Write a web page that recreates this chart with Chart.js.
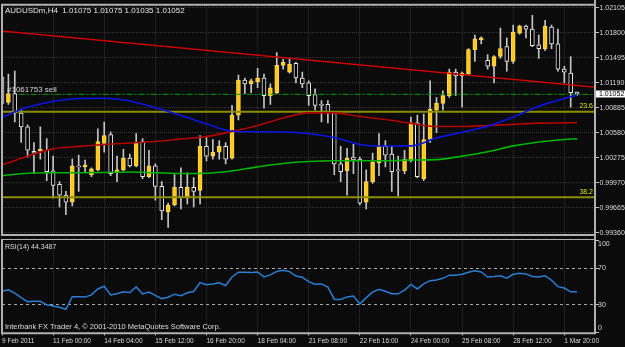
<!DOCTYPE html>
<html>
<head>
<meta charset="utf-8">
<script src="https://cdn.jsdelivr.net/npm/chart.js@4.4.1/dist/chart.umd.min.js"></script>
<style>
  html, body { margin: 0; padding: 0; background: #0b0b0b; }
  #wrap { position: relative; width: 625px; height: 347px; background: #0b0b0b; overflow: hidden; }
  #priceChart { position: absolute; left: 0; top: 0; }
  #rsiChart { position: absolute; left: 0; top: 239px; }
</style>
</head>
<body>
<div id="wrap">
  <canvas id="priceChart" width="625" height="239"></canvas>
  <canvas id="rsiChart" width="625" height="108"></canvas>
</div>
<script>
// AUDUSDm H4, 91 bars from 9 Feb 2011 16:00
const symbol = 'AUDUSDm,H4';

const opens = [
  1.01259, 1.00949, 1.01057, 1.00818, 1.00652, 1.00354, 1.00354, 1.00366, 1.00115, 0.99949,
  0.99818, 0.99734, 1.00175, 1.00163, 1.00068, 1.00127, 1.00449, 1.00556, 1.00104, 1.00127,
  1.00270, 1.00175, 1.00473, 1.00044, 1.00175, 0.99925, 0.99615, 0.99698, 0.99913, 0.99794,
  0.99913, 0.99877, 1.00413, 1.00294, 1.00342, 1.00413, 1.00270, 1.00795, 1.01223, 1.01176,
  1.01200, 1.01247, 1.01033, 1.01069, 1.01402, 1.01319, 1.01426, 1.01247, 1.01188, 1.01045,
  1.00926, 1.00926, 1.00818, 1.00199, 1.00115, 1.00282, 1.00258, 0.99734, 0.99984, 1.00211,
  1.00413, 1.00318, 1.00127, 1.00115, 1.00235, 1.00699, 1.00020, 1.00497, 1.00854, 1.00938,
  1.01033, 1.01319, 1.01271, 1.01295, 1.01593, 1.01712, 1.01462, 1.01390, 1.01509, 1.01629,
  1.01450, 1.01795, 1.01879, 1.01843, 1.01652, 1.01605, 1.01867, 1.01664, 1.01355, 1.01307,
  1.01075
];
const highs = [
  1.01307, 1.01295, 1.01331, 1.00854, 1.00675, 1.00461, 1.00652, 1.00509, 1.00294, 0.99984,
  0.99865, 1.00258, 1.00306, 1.00247, 1.00151, 1.00628, 1.00711, 1.00592, 1.00294, 1.00378,
  1.00318, 1.00568, 1.00509, 1.00366, 1.00199, 0.99984, 0.99722, 1.00068, 1.00151, 1.00092,
  1.00032, 1.00544, 1.00532, 1.00497, 1.00485, 1.00461, 1.00914, 1.01283, 1.01247, 1.01235,
  1.01366, 1.01295, 1.01176, 1.01557, 1.01474, 1.01486, 1.01438, 1.01319, 1.01212, 1.01116,
  1.00973, 1.00973, 1.00842, 1.00413, 1.00389, 1.00437, 1.00282, 1.00127, 1.00330, 1.00568,
  1.00485, 1.00413, 1.00294, 1.00366, 1.00771, 1.00795, 1.00807, 1.01212, 1.01009, 1.01092,
  1.01355, 1.01355, 1.01319, 1.01605, 1.01771, 1.01748, 1.01533, 1.01521, 1.01855, 1.01736,
  1.01891, 1.01891, 1.01891, 1.02010, 1.01771, 1.01950, 1.01891, 1.01843, 1.01390, 1.01509,
  1.01075
];
const lows = [
  1.00854, 1.00926, 1.00711, 1.00461, 1.00282, 1.00080, 1.00258, 0.99996, 0.99782, 0.99675,
  0.99579, 0.99687, 0.99865, 1.00092, 1.00044, 1.00115, 1.00342, 1.00056, 0.99984, 1.00115,
  1.00163, 1.00163, 1.00020, 1.00032, 0.99758, 0.99520, 0.99424, 0.99687, 0.99651, 0.99710,
  0.99675, 0.99710, 1.00235, 1.00258, 1.00258, 1.00199, 1.00258, 1.00735, 1.01057, 1.01069,
  1.01128, 1.00878, 1.00926, 1.01057, 1.01355, 1.01307, 1.01188, 1.01128, 1.00914, 1.00854,
  1.00711, 1.00699, 1.00068, 0.99984, 0.99818, 1.00080, 0.99698, 0.99651, 0.99961, 1.00056,
  1.00163, 0.99865, 0.99806, 1.00080, 1.00223, 1.00032, 0.99996, 1.00461, 1.00580, 1.00854,
  1.01009, 1.01033, 1.00890, 1.01283, 1.01450, 1.01664, 1.01355, 1.01188, 1.01486, 1.01331,
  1.01426, 1.01783, 1.01736, 1.01629, 1.01486, 1.01581, 1.01605, 1.01331, 1.01188, 1.00890,
  1.01035
];
const closes = [
  1.00938, 1.01057, 1.00818, 1.00652, 1.00366, 1.00330, 1.00378, 1.00104, 0.99937, 0.99818,
  0.99734, 1.00175, 1.00163, 1.00187, 1.00139, 1.00473, 1.00544, 1.00080, 1.00127, 1.00270,
  1.00175, 1.00461, 1.00044, 1.00175, 0.99925, 0.99627, 0.99698, 0.99913, 0.99794, 0.99913,
  0.99865, 1.00413, 1.00294, 1.00342, 1.00413, 1.00258, 1.00795, 1.01223, 1.01176, 1.01212,
  1.01247, 1.01033, 1.01128, 1.01402, 1.01438, 1.01414, 1.01247, 1.01176, 1.01033, 1.00914,
  1.00914, 1.00818, 1.00199, 1.00104, 1.00270, 1.00247, 0.99722, 0.99984, 1.00223, 1.00413,
  1.00306, 1.00104, 1.00115, 1.00258, 1.00699, 1.00044, 1.00497, 1.00866, 1.00938, 1.01033,
  1.01319, 1.01271, 1.01307, 1.01593, 1.01724, 1.01736, 1.01390, 1.01509, 1.01605, 1.01450,
  1.01807, 1.01879, 1.01843, 1.01640, 1.01605, 1.01879, 1.01664, 1.01355, 1.01319, 1.01069,
  1.01052
];

// moving averages, read every 4th bar
const maBars = [0, 4, 8, 12, 16, 20, 24, 28, 32, 36, 40, 44, 48, 52, 56, 60, 64, 68, 72, 76, 80, 84, 88, 90];
const maBlue = [1.00771, 1.00890, 1.00961, 1.00997, 1.01000, 1.00967, 1.00884, 1.00789, 1.00687, 1.00598,
  1.00592, 1.00589, 1.00568, 1.00521, 1.00437, 1.00417, 1.00419, 1.00515, 1.00586, 1.00658,
  1.00771, 1.00902, 1.00997, 1.01039];
const maRed = [1.00187, 1.00294, 1.00383, 1.00413, 1.00437, 1.00455, 1.00473, 1.00503, 1.00532, 1.00596,
  1.00669, 1.00759, 1.00822, 1.00822, 1.00777, 1.00741, 1.00694, 1.00655, 1.00655, 1.00668,
  1.00681, 1.00697, 1.00700, 1.00703];
const maGreen = [1.00056, 1.00086, 1.00092, 1.00092, 1.00095, 1.00100, 1.00092, 1.00083, 1.00086, 1.00115,
  1.00163, 1.00205, 1.00229, 1.00238, 1.00238, 1.00238, 1.00247, 1.00252, 1.00294, 1.00348,
  1.00419, 1.00467, 1.00497, 1.00505];

// trendline anchors (bar, price), fibo levels, open order
const trendBars = [0, 93];
const trendPrices = [1.01819, 1.01134];
const fibLevels = [1.00834, 0.99794];
const fibLabels = ['23.6', '38.2'];
const orderPrice = 1.01048;
const orderStartBar = 2.6;
const orderLabel = '#1061753 sell';

const rsi = [
  45.1, 46.5, 43, 38, 33.6, 34, 34, 30.2, 29, 27.5,
  25.3, 39, 39, 38.6, 41, 47.5, 50.4, 41, 42.3, 44.4,
  43.6, 49.7, 42, 44, 40.4, 36.8, 38.5, 41.8, 40.2, 43.3,
  44.7, 54.5, 52, 53, 54.3, 51.2, 60.5, 65.8, 65.8, 65.4,
  66, 60.6, 62.8, 66.6, 67.8, 66.4, 61.5, 60.2, 55.5, 52.7,
  53, 49.5, 36.3, 36, 38.8, 39.8, 31.2, 38, 44, 47,
  45, 42.2, 42.2, 46.3, 52.5, 47.5, 53, 56.5, 57.3, 59.1,
  62.5, 62.4, 63.6, 65.8, 67.4, 66, 60.5, 61, 61.8, 59.3,
  63.5, 64.5, 63.9, 61, 60.5, 61.8, 57, 50, 48.5, 44.4,
  44.3487
];
const rsiTicks = [0, 30, 70, 100];

const priceTicks = [0.99360, 0.99665, 0.99970, 1.00275, 1.00580, 1.00885, 1.01190, 1.01495, 1.01800, 1.02105];
const tickBars = [0, 8, 16, 24, 32, 40, 48, 56, 64, 72, 80, 88];
const timeLabels = ['9 Feb 2011', '11 Feb 00:00', '14 Feb 04:00', '15 Feb 12:00', '16 Feb 20:00', '18 Feb 04:00',
  '21 Feb 08:00', '22 Feb 16:00', '24 Feb 00:00', '25 Feb 08:00', '28 Feb 12:00', '1 Mar 20:00'];

const FONT = "'Liberation Sans', Arial, sans-serif";
const X_MAX = 92.96;
const GRID = '#353535';
const TEXT = '#dcdcdc';
const FRAME = '#b0b0b0';

Chart.defaults.font.family = FONT;

const isBull = opens.map((o, i) => closes[i] >= o);
const last = closes.length - 1;
const maPoints = vals => vals.map((v, k) => ({ x: maBars[k], y: v }));
const flatLine = (price, from) => [{ x: from, y: price }, { x: trendBars[1], y: price }];

function timeAxis(showLabels, height) {
  return {
    type: 'linear', min: 0, max: X_MAX, offset: false,
    afterBuildTicks: s => { s.ticks = tickBars.map(v => ({ value: v })); },
    afterFit: s => { s.height = height; },
    ticks: {
      display: showLabels, color: TEXT, font: { size: 6.5 }, align: 'start',
      maxRotation: 0, autoSkip: false, padding: 2,
      callback: (v, i) => timeLabels[i]
    },
    grid: { color: GRID, drawTicks: showLabels, tickLength: 3, tickColor: '#c0c0c0', offset: false },
    border: { display: false, dash: [1, 1] }
  };
}

const priceDecor = {
  id: 'priceDecor',
  afterDraw(chart) {
    const { ctx, chartArea: a, scales: { y } } = chart;
    ctx.save();
    ctx.strokeStyle = FRAME;
    ctx.lineWidth = 2;
    ctx.beginPath();
    ctx.moveTo(a.left, a.top - 1); ctx.lineTo(a.left, a.bottom + 1.7);
    ctx.moveTo(a.left - 1, a.top); ctx.lineTo(a.right, a.top);
    ctx.moveTo(a.left - 1, a.bottom + 0.7); ctx.lineTo(a.right, a.bottom + 0.7);
    ctx.moveTo(a.right - 1, 0); ctx.lineTo(a.right - 1, chart.height);
    ctx.stroke();

    ctx.textBaseline = 'middle';
    ctx.textAlign = 'left';
    ctx.fillStyle = '#e6e6e6';
    ctx.font = `8px ${FONT}`;
    const ohlc = [opens[last], highs[last], lows[last], closes[last]].map(v => v.toFixed(5)).join(' ');
    ctx.fillText(`${symbol}  ${ohlc}`, a.left + 3, a.top + 6);
    ctx.fillStyle = '#d4d4d4';
    ctx.fillText(orderLabel, a.left + 5, y.getPixelForValue(orderPrice) - 5);

    ctx.font = `7px ${FONT}`;
    ctx.fillStyle = '#e2e200';
    ctx.textAlign = 'right';
    fibLevels.forEach((lv, k) => ctx.fillText(fibLabels[k], a.right - 3, y.getPixelForValue(lv) - 5.5));

    const py = y.getPixelForValue(closes[last]);
    ctx.fillStyle = '#ffffff';
    ctx.fillRect(a.right, py - 3.5, chart.width - a.right, 7);
    ctx.fillStyle = '#000000';
    ctx.textAlign = 'left';
    ctx.fillText(closes[last].toFixed(5), a.right + 3, py + 0.3);
    ctx.restore();
  }
};

const rsiDecor = {
  id: 'rsiDecor',
  afterDraw(chart) {
    const { ctx, chartArea: a, scales: { y } } = chart;
    ctx.save();
    ctx.strokeStyle = FRAME;
    ctx.lineWidth = 2;
    ctx.beginPath();
    ctx.moveTo(a.left, 0); ctx.lineTo(a.left, a.bottom + 1.8);
    ctx.moveTo(a.left - 1, a.bottom + 0.8); ctx.lineTo(a.right, a.bottom + 0.8);
    ctx.moveTo(a.right - 1, 0); ctx.lineTo(a.right - 1, a.bottom + 1.8);
    ctx.stroke();
    ctx.lineWidth = 1;
    ctx.beginPath();
    ctx.moveTo(a.left, a.top - 1.3); ctx.lineTo(a.right, a.top - 1.3);
    ctx.stroke();

    ctx.textBaseline = 'middle';
    ctx.textAlign = 'left';
    ctx.fillStyle = TEXT;
    ctx.font = `7px ${FONT}`;
    rsiTicks.forEach(v => {
      const py = Math.min(Math.max(y.getPixelForValue(v), a.top + 3.4), a.bottom - 4.2);
      ctx.fillText(String(v), a.right + 2, py);
    });
    ctx.fillText(`RSI(14) ${rsi[last].toFixed(4)}`, a.left + 3, a.top + 6.2);
    ctx.font = `7.5px ${FONT}`;
    ctx.fillText('Interbank FX Trader 4, \u00a9 2001-2010 MetaQuotes Software Corp.', a.left + 3, a.bottom - 5.8);
    ctx.restore();
  }
};

const lineBase = { type: 'line', pointRadius: 0, fill: false, borderWidth: 1.6 };

new Chart(document.getElementById('priceChart'), {
  type: 'bar',
  data: {
    datasets: [
      { ...lineBase, data: maPoints(maBlue), borderColor: '#0a14e6', cubicInterpolationMode: 'monotone', order: 1 },
      { ...lineBase, data: maPoints(maRed), borderColor: '#b00000', cubicInterpolationMode: 'monotone', order: 1 },
      { ...lineBase, data: maPoints(maGreen), borderColor: '#00b400', cubicInterpolationMode: 'monotone', order: 1 },
      { ...lineBase, data: trendBars.map((b, k) => ({ x: b, y: trendPrices[k] })), borderColor: '#cc0000', borderWidth: 1.5, order: 2 },
      { ...lineBase, data: flatLine(fibLevels[0], 0), borderColor: '#8c8c00', borderWidth: 2, order: 2 },
      { ...lineBase, data: flatLine(fibLevels[1], 0), borderColor: '#8c8c00', borderWidth: 2, order: 2 },
      { ...lineBase, data: flatLine(orderPrice, orderStartBar), borderColor: '#00a000', borderWidth: 1, borderDash: [6, 2, 2, 2], order: 2 },
      {
        data: opens.map((o, i) => ({ x: i, y: [o, closes[i]] })),
        backgroundColor: c => isBull[c.dataIndex] ? '#ffc81e' : '#000000',
        borderColor: c => isBull[c.dataIndex] ? '#ffd84a' : '#e8e8e8',
        borderWidth: 1, borderSkipped: false, barThickness: 4, minBarLength: 1, grouped: false, order: 4
      },
      {
        data: highs.map((h, i) => ({ x: i, y: [lows[i], h] })),
        backgroundColor: '#c4c4c4', barThickness: 1, grouped: false, order: 5
      }
    ]
  },
  options: {
    responsive: false, animation: false, devicePixelRatio: 1, events: [],
    layout: { autoPadding: false, padding: { left: 2, top: 2, right: 0, bottom: 2 } },
    plugins: { legend: { display: false }, tooltip: { enabled: false } },
    scales: {
      x: timeAxis(false, 0),
      y: {
        position: 'right', min: 0.99341, max: 1.02141,
        afterBuildTicks: s => { s.ticks = priceTicks.map(v => ({ value: v })); },
        afterFit: s => { s.width = 29; },
        ticks: { color: TEXT, font: { size: 7 }, padding: 0.5, callback: v => v.toFixed(5) },
        grid: { color: GRID, tickLength: 3, tickColor: '#c0c0c0' },
        border: { display: false, dash: [1, 1] }
      }
    }
  },
  plugins: [priceDecor]
});

new Chart(document.getElementById('rsiChart'), {
  type: 'line',
  data: {
    datasets: [{
      data: rsi.map((v, i) => ({ x: i, y: v })),
      borderColor: '#2a7fd4', borderWidth: 1.5, pointRadius: 0, fill: false, tension: 0
    }]
  },
  options: {
    responsive: false, animation: false, devicePixelRatio: 1, events: [],
    layout: { autoPadding: false, padding: { left: 2, top: 1.8, right: 0, bottom: 0 } },
    plugins: { legend: { display: false }, tooltip: { enabled: false } },
    scales: {
      x: timeAxis(true, 14.5),
      y: {
        position: 'right', min: 0, max: 100,
        afterBuildTicks: s => { s.ticks = rsiTicks.map(v => ({ value: v })); },
        afterFit: s => { s.width = 29; },
        ticks: { display: false },
        grid: {
          color: c => (c.tick && (c.tick.value === 30 || c.tick.value === 70)) ? '#a8a8a8' : 'rgba(0,0,0,0)',
          tickLength: 3, tickColor: '#c0c0c0'
        },
        border: { display: false, dash: [3, 3] }
      }
    }
  },
  plugins: [rsiDecor]
});
</script>
</body>
</html>
